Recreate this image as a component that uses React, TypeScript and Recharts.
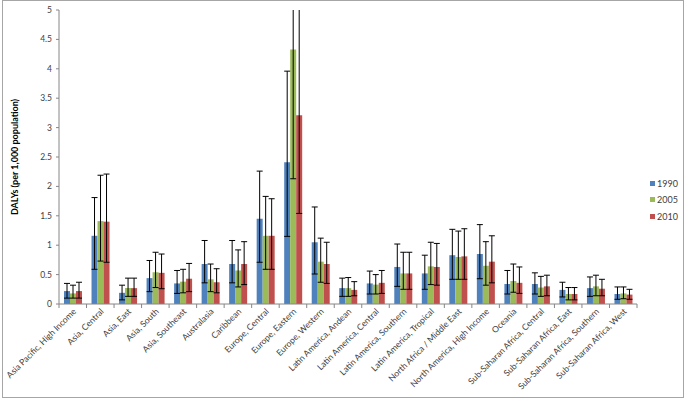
import { BarChart, Bar, XAxis, YAxis, ErrorBar, Legend } from 'recharts';

// Regions (GBD 21 regions)
const CATEGORIES = [
  'Asia Pacific, High Income',
  'Asia, Central',
  'Asia, East',
  'Asia, South',
  'Asia, Southeast',
  'Australasia',
  'Caribbean',
  'Europe, Central',
  'Europe, Eastern',
  'Europe, Western',
  'Latin America, Andean',
  'Latin America, Central',
  'Latin America, Southern',
  'Latin America, Tropical',
  'North Africa / Middle East',
  'North America, High Income',
  'Oceania',
  'Sub-Saharan Africa, Central',
  'Sub-Saharan Africa, East',
  'Sub-Saharan Africa, Southern',
  'Sub-Saharan Africa, West',
];

// DALYs per 1,000 population
const DALY_1990 = [0.22, 1.16, 0.19, 0.44, 0.35, 0.68, 0.68, 1.45, 2.41, 1.05, 0.27, 0.35, 0.63, 0.52, 0.83, 0.85, 0.34, 0.34, 0.24, 0.27, 0.17];
const DALY_2005 = [0.18, 1.41, 0.27, 0.54, 0.38, 0.42, 0.57, 1.16, 4.33, 0.72, 0.27, 0.33, 0.52, 0.64, 0.80, 0.65, 0.39, 0.28, 0.17, 0.30, 0.18];
const DALY_2010 = [0.22, 1.40, 0.27, 0.53, 0.43, 0.37, 0.68, 1.16, 3.21, 0.68, 0.24, 0.36, 0.52, 0.63, 0.81, 0.72, 0.36, 0.30, 0.17, 0.26, 0.16];

// uncertainty intervals (lower / upper)
const LOW_1990 = [0.10, 0.59, 0.07, 0.21, 0.18, 0.36, 0.36, 0.71, 1.15, 0.51, 0.13, 0.17, 0.30, 0.25, 0.42, 0.43, 0.17, 0.17, 0.12, 0.13, 0.08];
const HIGH_1990 = [0.35, 1.81, 0.32, 0.74, 0.57, 1.08, 1.08, 2.26, 3.96, 1.65, 0.44, 0.56, 1.02, 0.83, 1.27, 1.35, 0.57, 0.53, 0.37, 0.46, 0.29];
const LOW_2005 = [0.10, 0.73, 0.13, 0.28, 0.19, 0.21, 0.29, 0.59, 2.13, 0.37, 0.13, 0.17, 0.25, 0.33, 0.42, 0.32, 0.20, 0.13, 0.07, 0.14, 0.09];
const HIGH_2005 = [0.32, 2.19, 0.44, 0.88, 0.59, 0.68, 0.92, 1.83, 5.6, 1.12, 0.45, 0.50, 0.88, 1.05, 1.24, 1.06, 0.68, 0.47, 0.28, 0.49, 0.29];
const LOW_2010 = [0.10, 0.71, 0.13, 0.26, 0.21, 0.19, 0.33, 0.59, 1.54, 0.35, 0.14, 0.18, 0.25, 0.32, 0.42, 0.36, 0.18, 0.14, 0.07, 0.14, 0.08];
const HIGH_2010 = [0.37, 2.21, 0.44, 0.85, 0.69, 0.60, 1.06, 1.79, 5.4, 1.05, 0.38, 0.57, 0.88, 1.03, 1.28, 1.16, 0.63, 0.49, 0.28, 0.42, 0.25];

const Y_TICKS = [0, 0.5, 1, 1.5, 2, 2.5, 3, 3.5, 4, 4.5, 5];

const COLORS = { y1990: '#4F81BD', y2005: '#9BBB59', y2010: '#C0504D' };

const data = CATEGORIES.map((name, i) => ({
  name,
  y1990: DALY_1990[i],
  y2005: DALY_2005[i],
  y2010: DALY_2010[i],
  e1990: [DALY_1990[i] - LOW_1990[i], HIGH_1990[i] - DALY_1990[i]],
  e2005: [DALY_2005[i] - LOW_2005[i], HIGH_2005[i] - DALY_2005[i]],
  e2010: [DALY_2010[i] - LOW_2010[i], HIGH_2010[i] - DALY_2010[i]],
}));

const WIDTH = 685;
const HEIGHT = 400;
const MARGIN = { top: 10, right: 48, left: 0, bottom: 0 };
const Y_AXIS_WIDTH = 59;
const BAND = (WIDTH - MARGIN.right - MARGIN.left - Y_AXIS_WIDTH) / CATEGORIES.length;
const FONT = 'Lato, "Liberation Sans", sans-serif';
const AXIS_COLOR = '#868686';
const TEXT_COLOR = '#404040';

// Excel puts the category ticks between groups, not under them
const CategoryTick = ({ x, y, payload, index }: any) => {
  const axisY = y - 6;
  const tx = x + 4;
  const ty = y + 2;
  return (
    <g>
      <line x1={x - BAND / 2} x2={x - BAND / 2} y1={axisY} y2={axisY + 4} stroke={AXIS_COLOR} />
      {index === CATEGORIES.length - 1 && (
        <line x1={x + BAND / 2} x2={x + BAND / 2} y1={axisY} y2={axisY + 4} stroke={AXIS_COLOR} />
      )}
      <text
        x={tx}
        y={ty}
        transform={`rotate(-45, ${tx}, ${ty})`}
        textAnchor="end"
        fontSize={8.6}
        fontFamily={FONT}
        fill={TEXT_COLOR}
      >
        {payload.value}
      </text>
    </g>
  );
};

const YLabel = ({ viewBox }: any) => {
  const cx = 18;
  const cy = viewBox.y + viewBox.height / 2;
  return (
    <text
      x={cx}
      y={cy}
      transform={`rotate(-90, ${cx}, ${cy})`}
      textAnchor="middle"
      fontSize={9}
      fontWeight="bold"
      fontFamily={FONT}
      fill="#000"
    >
      DALYs (per 1,000 population)
    </text>
  );
};

const LegendContent = ({ payload }: any) => (
  <div style={{ fontFamily: FONT, fontSize: 9, color: TEXT_COLOR }}>
    {(payload || []).map((entry: any) => (
      <div key={entry.value} style={{ display: 'flex', alignItems: 'center', height: 16.5 }}>
        <span style={{ width: 5, height: 5, background: entry.color, marginRight: 2, display: 'inline-block' }} />
        <span>{entry.value}</span>
      </div>
    ))}
  </div>
);

export default function App() {
  return (
    <div style={{ position: 'absolute', left: 0, top: 0, width: WIDTH, height: HEIGHT, background: '#fff' }}>
      {/* error bars running past the 5.0 ceiling get cut at the top of the plot */}
      <style>{'.recharts-errorBars { clip-path: url(#plot-top-clip); }'}</style>
      <svg width={0} height={0} style={{ position: 'absolute' }}>
        <defs>
          <clipPath id="plot-top-clip" clipPathUnits="userSpaceOnUse">
            <rect x={0} y={MARGIN.top} width={WIDTH} height={HEIGHT} />
          </clipPath>
        </defs>
      </svg>
      <div
        style={{
          position: 'absolute',
          left: 2,
          top: 0,
          width: 682,
          height: 398,
          border: '1px solid #a6a6a6',
          boxSizing: 'border-box',
        }}
      />
      <BarChart width={WIDTH} height={HEIGHT} data={data} margin={MARGIN} barGap={0} barSize={6}>
        <XAxis
          dataKey="name"
          interval={0}
          height={96}
          tickLine={false}
          tickSize={4}
          tickMargin={2}
          stroke={AXIS_COLOR}
          tick={<CategoryTick />}
        />
        <YAxis
          width={Y_AXIS_WIDTH}
          domain={[0, 5]}
          ticks={Y_TICKS}
          allowDataOverflow
          tickSize={3}
          tickMargin={4}
          stroke={AXIS_COLOR}
          tick={{ fontSize: 8.5, fontFamily: FONT, fill: TEXT_COLOR }}
          label={<YLabel />}
        />
        <Legend
          layout="vertical"
          align="center"
          verticalAlign="middle"
          wrapperStyle={{ left: 650, top: 175, width: 34 }}
          content={<LegendContent />}
        />
        <Bar dataKey="y1990" name="1990" fill={COLORS.y1990} isAnimationActive={false}>
          <ErrorBar dataKey="e1990" width={3} stroke="#000" strokeWidth={1} direction="y" />
        </Bar>
        <Bar dataKey="y2005" name="2005" fill={COLORS.y2005} isAnimationActive={false}>
          <ErrorBar dataKey="e2005" width={3} stroke="#000" strokeWidth={1} direction="y" />
        </Bar>
        <Bar dataKey="y2010" name="2010" fill={COLORS.y2010} isAnimationActive={false}>
          <ErrorBar dataKey="e2010" width={3} stroke="#000" strokeWidth={1} direction="y" />
        </Bar>
      </BarChart>
    </div>
  );
}
